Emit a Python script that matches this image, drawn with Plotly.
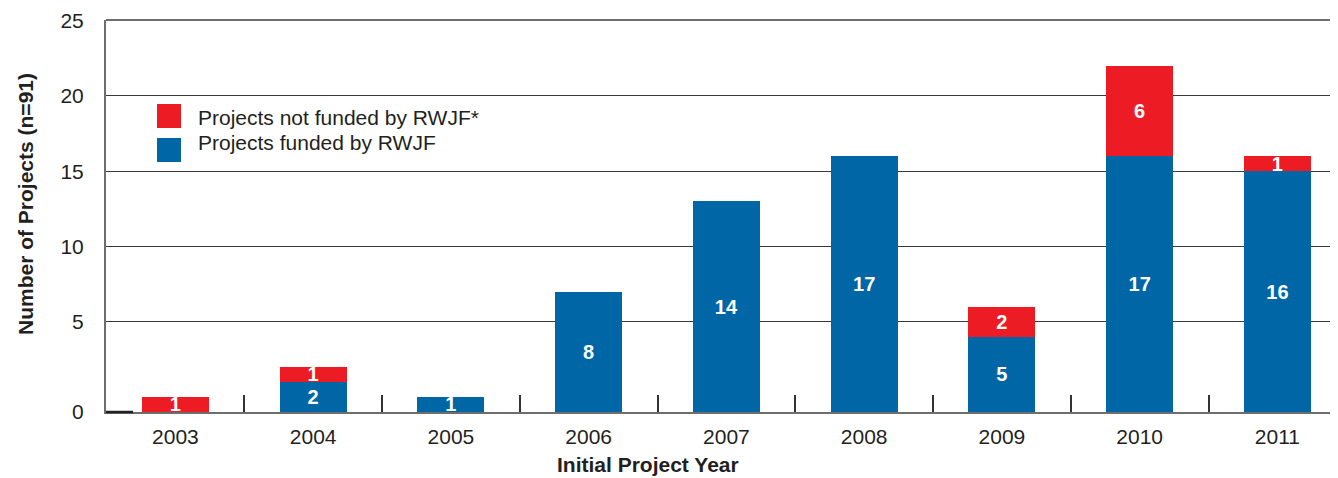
import plotly.graph_objects as go

years = ["2003", "2004", "2005", "2006", "2007", "2008", "2009", "2010", "2011"]
funded = [0, 2, 1, 8, 14, 17, 5, 17, 16]
not_funded = [1, 1, 0, 0, 0, 0, 2, 6, 1]

# tick positions / labels as drawn in the reference
ytick_vals = [0, 6, 11, 16, 21, 26]
ytick_text = ["0", "5", "10", "15", "20", "25"]

name_funded = "Projects funded by RWJF"
name_not = "Projects not funded by RWJF*"

RED = "#ED1C24"
BLUE = "#0066A6"
TXT = "#231F20"
FONT = "Liberation Sans, Arial, Helvetica, sans-serif"
FS = 21

fig = go.Figure()
fig.add_trace(go.Bar(
    x=years, y=funded, name=name_funded, marker=dict(color=BLUE, line=dict(width=0)),
    text=[str(v) if v else "" for v in funded], textposition="inside", textangle=0,
    insidetextanchor="middle", constraintext="none",
    textfont=dict(color="white", size=20, family=FONT, weight="bold"),
    width=0.486, showlegend=False,
))
fig.add_trace(go.Bar(
    x=years, y=not_funded, name=name_not, marker=dict(color=RED, line=dict(width=0)),
    text=[str(v) if v else "" for v in not_funded], textposition="inside", textangle=0,
    insidetextanchor="middle", constraintext="none",
    textfont=dict(color="white", size=20, family=FONT, weight="bold"),
    width=0.486, showlegend=False,
))

# the page body adds an 8px offset; plot area is sized so it lands at
# x 106..1338, y 20..412 of the window
W, H = 1330, 470
ML, MT, MB = 98, 12, 66
PW = W - ML
PH = H - MT - MB


def px_x(x):
    return (x - 8 - ML) / PW


def px_y(y):
    return 1 - (y - 8 - MT) / PH


shapes = [
    dict(type="line", xref="paper", yref="paper", x0=0, x1=1, y0=1, y1=1,
         line=dict(color="#6e6e6e", width=2)),
    dict(type="line", xref="paper", yref="paper", x0=0, x1=px_x(133), y0=0, y1=0,
         line=dict(color="#222222", width=2.5)),
    dict(type="rect", xref="paper", yref="paper", x0=px_x(157), x1=px_x(181),
         y0=px_y(128), y1=px_y(104), fillcolor=RED, line=dict(width=0)),
    dict(type="rect", xref="paper", yref="paper", x0=px_x(157), x1=px_x(181),
         y0=px_y(162), y1=px_y(138), fillcolor=BLUE, line=dict(width=0)),
]

annotations = [
    dict(text=name_not, xref="paper", yref="paper", x=px_x(196), y=px_y(117), xanchor="left",
         yanchor="middle", showarrow=False, font=dict(size=FS, color=TXT, family=FONT)),
    dict(text=name_funded, xref="paper", yref="paper", x=px_x(196), y=px_y(143), xanchor="left",
         yanchor="middle", showarrow=False, font=dict(size=FS, color=TXT, family=FONT)),
    dict(text="<b>Number of Projects (n=91)</b>", xref="paper", yref="paper", x=px_x(25),
         y=px_y(204), textangle=-90, xanchor="center", yanchor="middle", showarrow=False,
         font=dict(size=FS, color=TXT, family=FONT)),
    dict(text="<b>Initial Project Year</b>", xref="paper", yref="paper", x=px_x(648),
         y=px_y(464), xanchor="center", yanchor="middle", showarrow=False,
         font=dict(size=FS, color=TXT, family=FONT)),
]

fig.update_layout(
    width=W, height=H,
    margin=dict(l=ML, r=0, t=MT, b=MB, autoexpand=False),
    barmode="stack",
    paper_bgcolor="white", plot_bgcolor="white",
    font=dict(family=FONT, size=FS, color=TXT),
    uniformtext=dict(minsize=20, mode="show"),
    shapes=shapes, annotations=annotations,
    xaxis=dict(
        type="category", range=[-0.504, 8.44], automargin=False,
        showline=True, linecolor="#6e6e6e", linewidth=2,
        showgrid=False, zeroline=False,
        tickson="boundaries", ticks="inside", ticklen=17, tickwidth=1.5, tickcolor="#333333",
        ticklabelstandoff=5,
        tickfont=dict(size=FS, color=TXT, family=FONT),
    ),
    yaxis=dict(
        range=[0, 26.05], automargin=False,
        tickmode="array", tickvals=ytick_vals, ticktext=ytick_text,
        showline=True, linecolor="#6e6e6e", linewidth=2,
        showgrid=True, gridcolor="#3a3a3a", gridwidth=1.4,
        zeroline=False, ticks="", ticklabelstandoff=16,
        tickfont=dict(size=FS, color=TXT, family=FONT),
    ),
)

fig.write_html("out.html")
